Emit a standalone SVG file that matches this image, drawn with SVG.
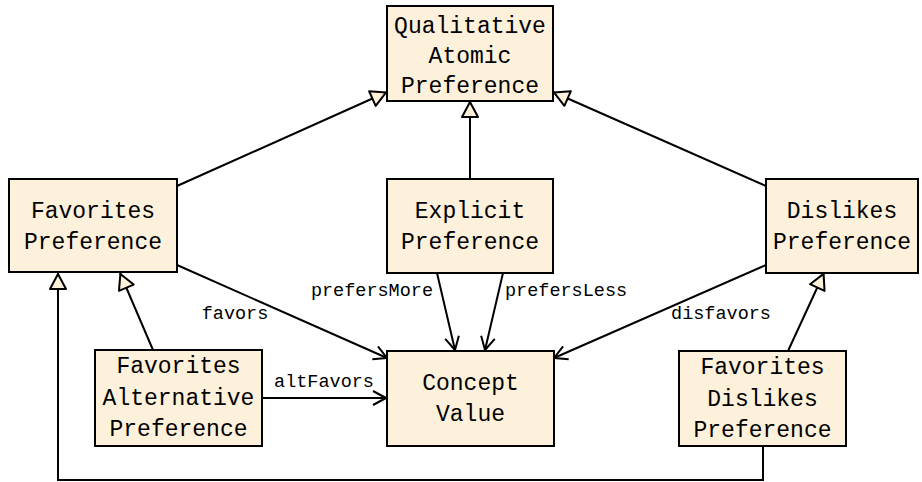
<svg xmlns="http://www.w3.org/2000/svg" width="922" height="482" viewBox="0 0 922 482">
<style>
.box{fill:#fdf1dc;stroke:#000;stroke-width:2}
.t{font-family:"Liberation Mono","DejaVu Sans Mono",monospace;font-size:23px;text-anchor:middle;fill:#000}
.lbl{font-family:"Liberation Mono","DejaVu Sans Mono",monospace;font-size:18.5px;fill:#000}
.c{fill:none;stroke:#000;stroke-width:2}
.gen{marker-end:url(#tri)}
.asc{marker-end:url(#open)}
</style>
<defs>
<marker id="tri" viewBox="-20 -12 24 24" refX="0" refY="0" markerWidth="24" markerHeight="24" markerUnits="userSpaceOnUse" orient="auto">
<path d="M-1,0 L-16,-8 L-16,8 Z" fill="#fdf1dc" stroke="#000" stroke-width="2" stroke-linejoin="round"/>
</marker>
<marker id="open" viewBox="-18 -12 22 24" refX="0" refY="0" markerWidth="22" markerHeight="24" markerUnits="userSpaceOnUse" orient="auto">
<path d="M-13,-7 L0,0 L-13,7" fill="none" stroke="#000" stroke-width="2" stroke-linejoin="round"/>
</marker>
</defs>
<g id="connectors">
<line class="c gen" x1="177" y1="186" x2="387" y2="92"/>
<line class="c gen" x1="470" y1="179" x2="470" y2="101"/>
<line class="c gen" x1="766" y1="186" x2="553" y2="92"/>
<line class="c gen" x1="153" y1="350" x2="120" y2="273"/>
<line class="c gen" x1="788" y1="351" x2="824" y2="273"/>
<polyline class="c gen" points="763,446 763,480 58,480 58,273"/>
<line class="c asc" x1="177" y1="265" x2="387" y2="358"/>
<line class="c asc" x1="437" y1="273" x2="455" y2="350"/>
<line class="c asc" x1="503" y1="273" x2="485" y2="350"/>
<line class="c asc" x1="766" y1="265" x2="554" y2="358"/>
<line class="c asc" x1="262" y1="398" x2="386" y2="398"/>
<text class="lbl" x="235" y="319" text-anchor="middle">favors</text>
<text class="lbl" x="433" y="296" text-anchor="end">prefersMore</text>
<text class="lbl" x="505" y="296">prefersLess</text>
<text class="lbl" x="721" y="319" text-anchor="middle">disfavors</text>
<text class="lbl" x="324" y="387" text-anchor="middle">altFavors</text>
</g>
<g id="qap">
<rect class="box" x="387" y="6" width="166" height="95"/>
<text class="t" x="470" y="33">Qualitative</text>
<text class="t" x="470" y="63">Atomic</text>
<text class="t" x="470" y="93">Preference</text>
</g>
<g id="favpref">
<rect class="box" x="9" y="179" width="168" height="93"/>
<text class="t" x="93" y="218">Favorites</text>
<text class="t" x="93" y="249">Preference</text>
</g>
<g id="explicit">
<rect class="box" x="387" y="179" width="166" height="94"/>
<text class="t" x="470" y="218">Explicit</text>
<text class="t" x="470" y="249">Preference</text>
</g>
<g id="dislikes">
<rect class="box" x="766" y="179" width="152" height="94"/>
<text class="t" x="842" y="218">Dislikes</text>
<text class="t" x="842" y="249">Preference</text>
</g>
<g id="concept">
<rect class="box" x="387" y="351" width="167" height="95"/>
<text class="t" x="470.5" y="390">Concept</text>
<text class="t" x="470.5" y="421">Value</text>
</g>
<g id="favalt">
<rect class="box" x="95" y="350" width="167" height="96"/>
<text class="t" x="178.5" y="373">Favorites</text>
<text class="t" x="178.5" y="405">Alternative</text>
<text class="t" x="178.5" y="436">Preference</text>
</g>
<g id="favdis">
<rect class="box" x="679" y="351" width="167" height="95"/>
<text class="t" x="762.5" y="374">Favorites</text>
<text class="t" x="762.5" y="406">Dislikes</text>
<text class="t" x="762.5" y="437">Preference</text>
</g>
</svg>
